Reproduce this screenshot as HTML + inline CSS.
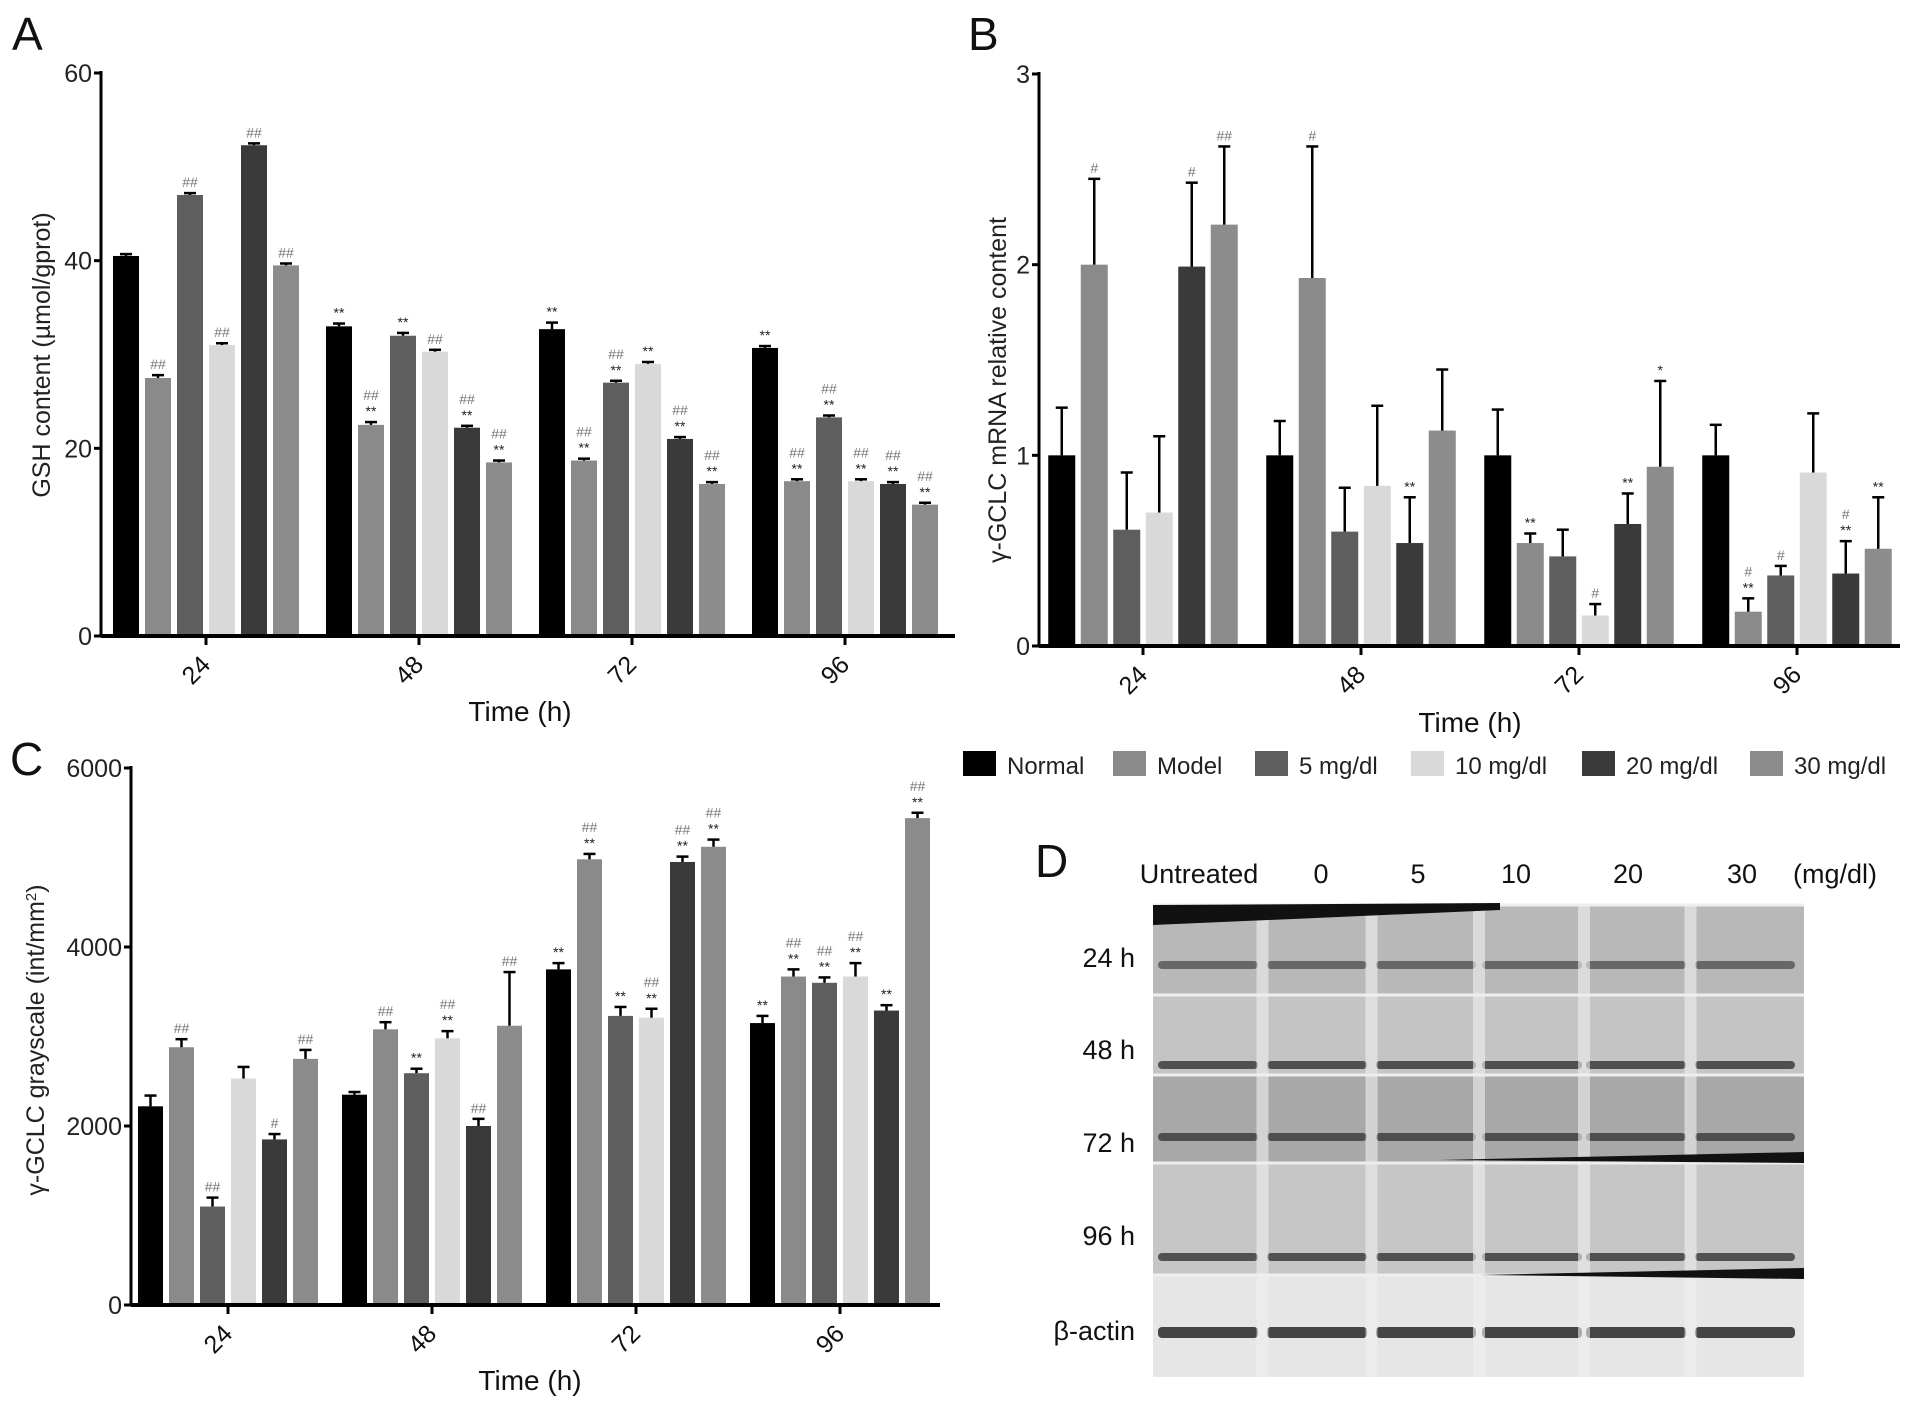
<!DOCTYPE html>
<html><head><meta charset="utf-8"><style>
body{margin:0;background:#fff;width:1913px;height:1404px;overflow:hidden;font-family:"Liberation Sans",sans-serif}
svg{position:absolute;left:0;top:0}
</style></head><body>
<svg id="s" width="1913" height="1404" xmlns="http://www.w3.org/2000/svg"></svg>
<script>
const groups=["24","48","72","96"];
const colors=["#000","#8a8a8a","#5e5e5e","#d9d9d9","#3a3a3a","#8c8c8c"];
const seriesNames=["Normal","Model","5 mg/dl","10 mg/dl","20 mg/dl","30 mg/dl"];
const aVals=[[40.5,27.5,47,31,52.3,39.5],[33,22.5,32,30.3,22.2,18.5],[32.7,18.7,27,29,21,16.2],[30.7,16.5,23.3,16.5,16.2,14]];
const aErr=[[0.2,0.3,0.2,0.2,0.2,0.2],[0.3,0.3,0.3,0.2,0.2,0.2],[0.7,0.2,0.2,0.2,0.2,0.2],[0.2,0.2,0.2,0.2,0.2,0.2]];
const aAnn=[["","##","##","##","##","##"],["**","##\n**","**","##","##\n**","##\n**"],["**","##\n**","##\n**","**","##\n**","##\n**"],["**","##\n**","##\n**","##\n**","##\n**","##\n**"]];
const aTicks=[0,20,40,60];
const bVals=[[1.0,2.0,0.61,0.70,1.99,2.21],[1.0,1.93,0.60,0.84,0.54,1.13],[1.0,0.54,0.47,0.16,0.64,0.94],[1.0,0.18,0.37,0.91,0.38,0.51]];
const bErr=[[0.25,0.45,0.30,0.40,0.44,0.41],[0.18,0.69,0.23,0.42,0.24,0.32],[0.24,0.05,0.14,0.06,0.16,0.45],[0.16,0.07,0.05,0.31,0.17,0.27]];
const bAnn=[["","#","","","#","##"],["","#","","","**",""],["","**","","#","**","*"],["","#\n**","#","","#\n**","**"]];
const bTicks=[0,1,2,3];
const cVals=[[2220,2880,1100,2530,1850,2750],[2350,3080,2590,2980,2000,3120],[3750,4980,3230,3210,4950,5120],[3150,3670,3600,3670,3290,5440]];
const cErr=[[120,90,100,130,60,100],[30,80,50,80,80,600],[70,60,100,100,60,80],[80,80,60,150,60,60]];
const cAnn=[["","##","##","","#","##"],["","##","**","##\n**","##","##"],["**","##\n**","**","##\n**","##\n**","##\n**"],["**","##\n**","##\n**","##\n**","**","##\n**"]];
const cTicks=[0,2000,4000,6000];

const S=document.getElementById('s');const NS="http://www.w3.org/2000/svg";
function el(t,a,p){const e=document.createElementNS(NS,t);for(const k in a)e.setAttribute(k,a[k]);(p||S).appendChild(e);return e;}
function txt(x,y,s,a,p){const e=el('text',Object.assign({x:x,y:y,fill:'#111','font-family':'Liberation Sans, sans-serif'},a),p);e.textContent=s;return e;}

function chart(o){
 const g=el('g',{});
 
 
 const yS=v=>o.y0-(v-o.min)/(o.max-o.min)*(o.y0-o.y1);
 const xS=(gi,si)=>o.g0+gi*o.gp-o.bp*3+si*o.bp+(o.bp-o.bw)/2;
 for(let gi=0;gi<o.vals.length;gi++)for(let si=0;si<6;si++){
  const v=o.vals[gi][si],x=xS(gi,si),y=yS(v);
  const r=el('rect',{x:x,y:y,width:o.bw,height:o.y0-y,fill:colors[si]},g);
  
  
  const ey=yS(v+o.err[gi][si]),cx=x+o.bw/2;
  el('line',{x1:cx,x2:cx,y1:y,y2:ey,stroke:'#000','stroke-width':2.5},g);
  el('line',{x1:cx-6,x2:cx+6,y1:ey,y2:ey,stroke:'#000','stroke-width':2.5},g);
  const an=o.ann[gi][si];
  if(an){const ls=an.split("\n");for(let k=0;k<ls.length;k++){
   const t=txt(cx,ey-6-(ls.length-1-k)*16,ls[k],{'font-size':14,'text-anchor':'middle',fill:ls[k][0]=='#'?'#777':'#222'},g);
   
   }}
 }
 el('line',{x1:o.x0,x2:o.x0,y1:o.y1-2,y2:o.y0,stroke:'#000','stroke-width':3},g);
 el('line',{x1:o.x0,x2:o.xe,y1:o.y0,y2:o.y0,stroke:'#000','stroke-width':4},g);
 for(const t of o.ticks){const y=yS(t);
  el('line',{x1:o.x0-7,x2:o.x0,y1:y,y2:y,stroke:'#000','stroke-width':3},g);
  const tt=txt(o.x0-9,y+9,String(t),{'font-size':25,'text-anchor':'end',fill:'#222'},g);
  
  }
 for(let gi=0;gi<groups.length;gi++){const x=o.g0+gi*o.gp;
  el('line',{x1:x,x2:x,y1:o.y0,y2:o.y0+9,stroke:'#000','stroke-width':3},g);
  const tt=txt(0,0,groups[gi],{'font-size':25,'text-anchor':'middle',transform:`translate(${x-4},${o.y0+40}) rotate(-45)`},g);
  
  }
 const xt=txt(o.xtx,o.xty,'Time (h)',{'font-size':28,'text-anchor':'middle'},g);
 
 const yt=el('text',{'font-size':25,'text-anchor':'middle',fill:'#222','font-family':'Liberation Sans, sans-serif',transform:`translate(${o.ytx},${o.yty}) rotate(-90)`},g);
 yt.innerHTML=o.ytitle;
 
}
chart({name:'chart-a-gsh',vals:aVals,err:aErr,ann:aAnn,ticks:aTicks,min:0,max:60,x0:101,xe:955,y0:636,y1:73,g0:206,gp:213,bp:32,bw:26,xtx:520,xty:721,ytx:50,yty:355,ytitle:'GSH content (µmol/gprot)'});
chart({name:'chart-b-mrna',vals:bVals,err:bErr,ann:bAnn,ticks:bTicks,min:0,max:3,x0:1039,xe:1900,y0:646,y1:74,g0:1143,gp:218,bp:32.5,bw:27,xtx:1470,xty:732,ytx:1006,yty:390,ytitle:'γ-GCLC mRNA relative content'});
chart({name:'chart-c-grayscale',vals:cVals,err:cErr,ann:cAnn,ticks:cTicks,min:0,max:6000,x0:131,xe:940,y0:1305,y1:768,g0:228,gp:204,bp:31,bw:25,xtx:530,xty:1390,ytx:44,yty:1040,ytitle:'γ-GCLC grayscale (int/mm<tspan baseline-shift="super" font-size="15">2</tspan>)'});

const lg=el('g',{});
const lx=[963,1113,1255,1411,1582,1750];
for(let i=0;i<6;i++){
 const r=el('rect',{x:lx[i],y:751,width:33,height:25,fill:colors[i]},lg);
 
 const t=txt(lx[i]+44,774,seriesNames[i],{'font-size':24,fill:'#222'},lg);
 
}
[['A',12,50],['B',968,50],['C',10,775],['D',1035,877]].forEach(p=>{const t=txt(p[1],p[2],p[0],{'font-size':46,fill:'#111'});});

const bl=el('g',{});
const hdr=[["Untreated",1199],["0",1321],["5",1418],["10",1516],["20",1628],["30",1742],["(mg/dl)",1835]];
hdr.forEach(h=>{const t=txt(h[1],883,h[0],{'font-size':27,'text-anchor':'middle'},bl);});
// label, top, bottom, band y, fill, label center y
const rows=[["24 h",905,995,965,"#b8b8b8",957],["48 h",995,1075,1065,"#c4c4c4",1049],["72 h",1075,1163,1137,"#a8a8a8",1142],["96 h",1163,1275,1257,"#c6c6c6",1235],["β-actin",1275,1377,1331,"#e6e6e6",1330]];
const lanes=[1208,1317,1426,1532,1636,1745];
rows.forEach((r,i)=>{
 el('rect',{x:1153,y:r[1],width:651,height:r[2]-r[1],fill:r[4]},bl);
 lanes.forEach(l=>{el('rect',{x:l-50,y:r[3]-4,width:100,height:i==4?11:8,rx:4,fill:i==4?'#333':'#444',opacity:i==0?0.7:0.9},bl);});
 for(let k=0;k<5;k++){const sx=(lanes[k]+lanes[k+1])/2;el('rect',{x:sx-6,y:r[1],width:12,height:r[2]-r[1],fill:'#f0f0f0',opacity:0.6},bl);}
 el('line',{x1:1153,x2:1804,y1:r[1],y2:r[1],stroke:'#eee','stroke-width':3},bl);
 const t=txt(1135,r[5]+10,r[0],{'font-size':27,'text-anchor':'end'},bl);
});
el('path',{d:'M1153 905 L1500 903 L1500 910 L1153 925 Z',fill:'#111'},bl);
el('path',{d:'M1440 1160 L1804 1152 L1804 1163 Z',fill:'#111'},bl);
el('path',{d:'M1480 1275 L1804 1268 L1804 1279 Z',fill:'#111'},bl);
</script>
</body></html>
